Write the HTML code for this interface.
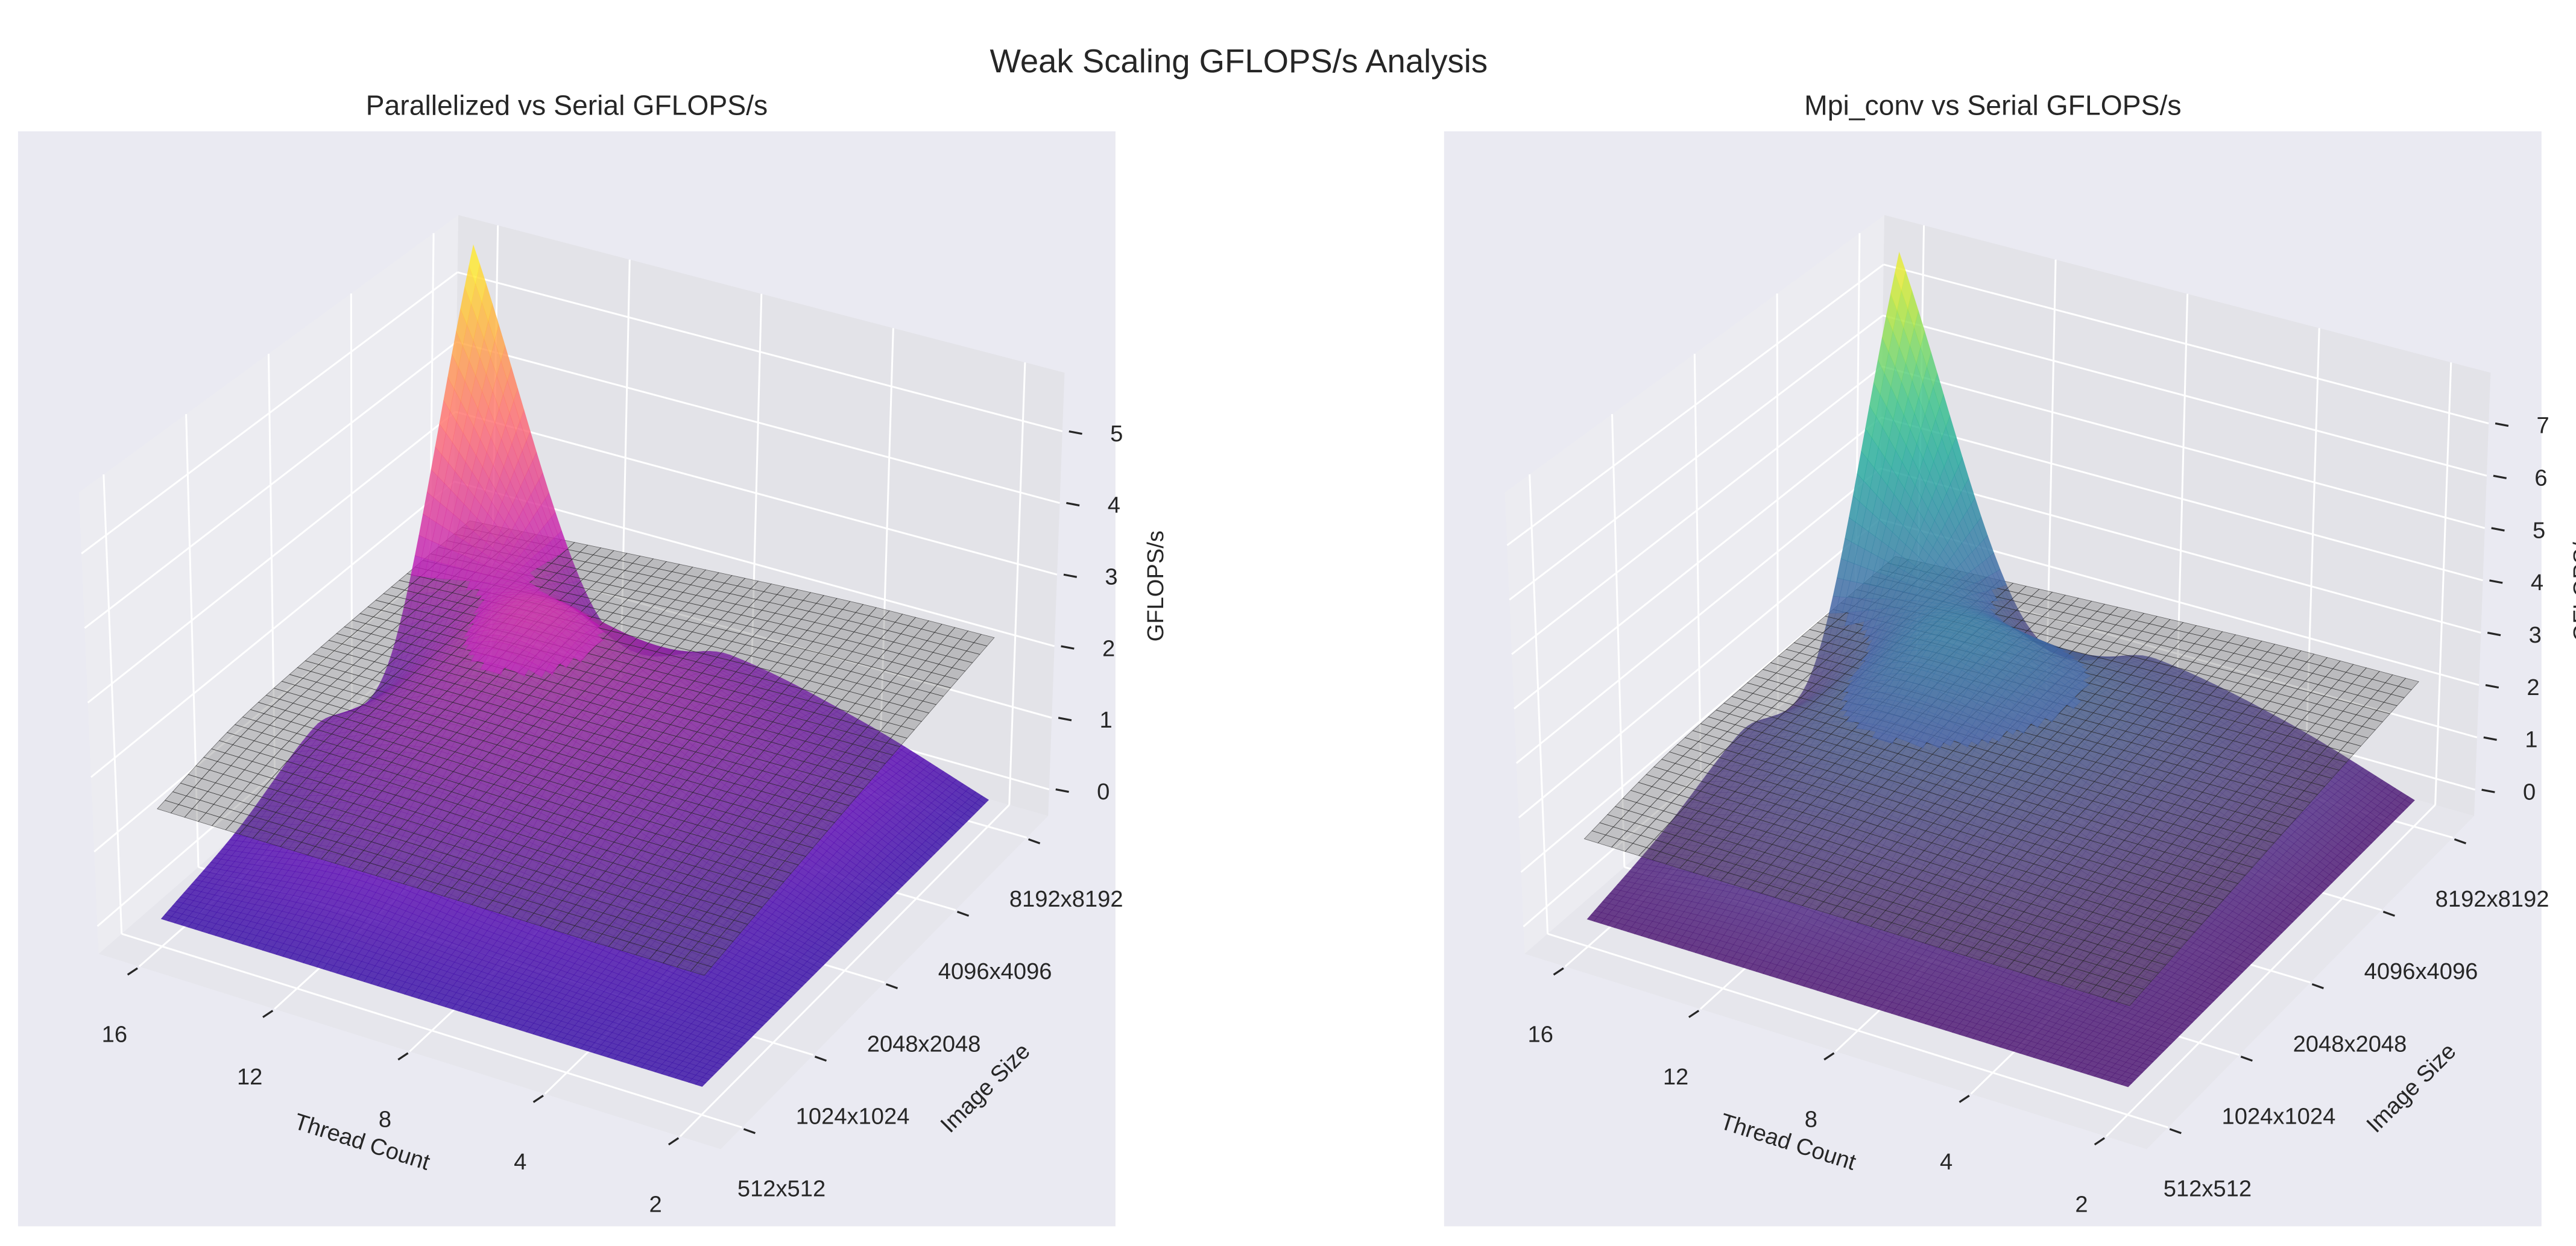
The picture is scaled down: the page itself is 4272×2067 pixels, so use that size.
<!DOCTYPE html>
<html><head><meta charset="utf-8"><title>Weak Scaling GFLOPS/s Analysis</title>
<style>
html,body{margin:0;padding:0;background:#fff;}
svg{display:block;font-family:"Liberation Sans",sans-serif;}
</style></head>
<body>
<svg id="fig" xmlns="http://www.w3.org/2000/svg" width="4272" height="2067" viewBox="0 0 1568 759" preserveAspectRatio="none">
<rect x="0" y="0" width="1568" height="759" fill="#ffffff"/>
<text x="754" y="44" text-anchor="middle" font-size="20" fill="#262626">Weak Scaling GFLOPS/s Analysis</text>
<rect x="11" y="80" width="668" height="667" fill="#eaeaf2"/>
<rect x="879" y="80" width="668" height="667" fill="#eaeaf2"/>
<text x="345" y="70" text-anchor="middle" font-size="17" fill="#262626">Parallelized vs Serial GFLOPS/s</text>
<text x="1213" y="70" text-anchor="middle" font-size="17" fill="#262626">Mpi_conv vs Serial GFLOPS/s</text>
<g id="left"></g>
<g id="right"></g>
</svg>
<script>
const threads = [2, 4, 8, 12, 16];
const sizeLabels = ['512x512', '1024x1024', '2048x2048', '4096x4096', '8192x8192'];
const serialGflops = [
  [1.46, 1.66, 1.86, 2.06, 2.26],
  [1.46, 1.66, 1.85, 2.04, 2.22],
  [1.47, 1.68, 1.84, 1.99, 2.12],
  [1.47, 1.72, 1.84, 1.93, 2.00],
  [1.48, 1.74, 1.82, 1.85, 1.87]
];
const parallelGflops = [
  [0, 0, 0, 0, 0],
  [0, 0.2, 0.5, 0.8, 0.6],
  [0, 0.4, 1.2, 1.6, 1.0],
  [0, 0.6, 1.5, 2.2, 1.0],
  [0, 0.3, 0.8, 0.9, 5.8]
];
const mpiGflops = [
  [0, 0, 0, 0, 0],
  [0, 0.25, 0.6, 1.0, 0.8],
  [0, 0.5, 1.5, 2.0, 1.3],
  [0, 0.8, 1.9, 2.7, 1.3],
  [0, 0.4, 1.0, 1.2, 7.8]
];
const zTicksLeft = [0, 1, 2, 3, 4, 5];
const zTicksRight = [0, 1, 2, 3, 4, 5, 6, 7];

const NS = 'http://www.w3.org/2000/svg';
const plasma = [[13,8,135],[84,2,163],[139,10,165],[185,50,137],[219,92,104],[244,136,73],[254,188,43],[240,249,33]];
const viridis = [[68,1,84],[72,40,120],[62,74,137],[49,104,142],[38,130,142],[31,158,137],[53,183,121],[109,205,89],[180,222,44],[253,231,37]];

function cmapColor(stops, t, off) {
  t = Math.max(0, Math.min(1, t));
  const p = t * (stops.length - 1);
  const k = Math.min(stops.length - 2, Math.floor(p));
  const f = p - k;
  const c = [0,1,2].map(m => Math.round(Math.min(255, stops[k][m] * (1 - f) + stops[k+1][m] * f + off[m] * (1 - t * 0.6))));
  return 'rgb(' + c.join(',') + ')';
}

function makeProj(dx, c0, c1) {
  const F = [438.7, 700], L = [60, 581], R = [638, 497], B = [275, 394];
  const Ft = [445, 411], Lt = [48, 300], Rt = [648, 227], Bt = [279, 131];
  return function (i, j, z) {
    const u = (i + 0.3) / 4.6, v = (j + 0.3) / 4.6, w = (z - c0) / (c1 - c0);
    const a = (1-u)*(1-v), b = u*(1-v), c = (1-u)*v, d = u*v;
    const fx = F[0]*a + L[0]*b + R[0]*c + B[0]*d, fy = F[1]*a + L[1]*b + R[1]*c + B[1]*d;
    const tx = Ft[0]*a + Lt[0]*b + Rt[0]*c + Bt[0]*d, ty = Ft[1]*a + Lt[1]*b + Rt[1]*c + Bt[1]*d;
    return [dx + fx + (tx - fx) * w, fy + (ty - fy) * w];
  };
}

function cr(p0, p1, p2, p3, t) {
  return 0.5 * ((2*p1) + (-p0 + p2) * t + (2*p0 - 5*p1 + 4*p2 - p3) * t*t + (-p0 + 3*p1 - 3*p2 + p3) * t*t*t);
}
function getv(g, i, j) {
  const n = g.length;
  if (i < 0) return 2 * getv(g, 0, j) - getv(g, 1, j);
  if (i > n-1) return 2 * getv(g, n-1, j) - getv(g, n-2, j);
  if (j < 0) return 2 * g[i][0] - g[i][1];
  if (j > n-1) return 2 * g[i][n-1] - g[i][n-2];
  return g[i][j];
}
function sample(g, x, y) {
  const i = Math.min(3, Math.floor(x)), j = Math.min(3, Math.floor(y));
  const tx = x - i, ty = y - j;
  const rows = [];
  for (let a = -1; a <= 2; a++) {
    rows.push(cr(getv(g,i+a,j-1), getv(g,i+a,j), getv(g,i+a,j+1), getv(g,i+a,j+2), ty));
  }
  return cr(rows[0], rows[1], rows[2], rows[3], tx);
}

function mk(tag, parent) {
  const e = document.createElementNS(NS, tag);
  parent.appendChild(e);
  return e;
}
function pts(arr) { return arr.map(p => p[0].toFixed(2) + ',' + p[1].toFixed(2)).join(' '); }

function drawPanel(g, dx, c0, c1, colorGrid, stops, off, zTicks, prefix) {
  const P = makeProj(dx, c0, c1);
  const lo = -0.3, hi = 4.3;
  const floor = mk('polygon', g);
  
  
  floor.setAttribute('points', pts([P(lo,lo,c0), P(hi,lo,c0), P(hi,hi,c0), P(lo,hi,c0)]));
  floor.setAttribute('fill', '#e6e6ec');
  const lp = mk('polygon', g);
  
  
  lp.setAttribute('points', pts([P(hi,lo,c0), P(hi,hi,c0), P(hi,hi,c1), P(hi,lo,c1)]));
  lp.setAttribute('fill', '#ececf1');
  const bp = mk('polygon', g);
  
  
  bp.setAttribute('points', pts([P(lo,hi,c0), P(hi,hi,c0), P(hi,hi,c1), P(lo,hi,c1)]));
  bp.setAttribute('fill', '#e3e3e8');
  const gl = [];
  for (let k = 0; k < 5; k++) {
    gl.push([P(hi,k,c0), P(hi,k,c1)]);
    gl.push([P(k,hi,c0), P(k,hi,c1)]);
    gl.push([P(k,lo,c0), P(k,hi,c0)]);
    gl.push([P(lo,k,c0), P(hi,k,c0)]);
  }
  zTicks.forEach(z => { gl.push([P(hi,lo,z), P(hi,hi,z)]); gl.push([P(lo,hi,z), P(hi,hi,z)]); });
  gl.forEach(s => {
    const ln = mk('line', g);
    
    
    ln.setAttribute('x1', s[0][0]); ln.setAttribute('y1', s[0][1]);
    ln.setAttribute('x2', s[1][0]); ln.setAttribute('y2', s[1][1]);
    ln.setAttribute('stroke', '#ffffff'); ln.setAttribute('stroke-width', '1.1');
  });
  threads.forEach((t, k) => {
    const b = P(k, lo, c0);
    const tk = mk('line', g);
    
    
    tk.setAttribute('x1', b[0] - 1); tk.setAttribute('y1', b[1] + 1);
    tk.setAttribute('x2', b[0] - 7); tk.setAttribute('y2', b[1] + 5);
    tk.setAttribute('stroke', '#262626'); tk.setAttribute('stroke-width', '1.2');
    const tx = mk('text', g);
    
    
    tx.setAttribute('x', b[0] - 15); tx.setAttribute('y', b[1] + 46);
    tx.setAttribute('text-anchor', 'middle'); tx.setAttribute('font-size', '14'); tx.setAttribute('fill', '#262626');
    tx.textContent = String(t);
  });
  sizeLabels.forEach((s, k) => {
    const b = P(lo, k, c0);
    const tk = mk('line', g);
    
    
    tk.setAttribute('x1', b[0] + 1); tk.setAttribute('y1', b[1] + 1);
    tk.setAttribute('x2', b[0] + 8); tk.setAttribute('y2', b[1] + 3.5);
    tk.setAttribute('stroke', '#262626'); tk.setAttribute('stroke-width', '1.2');
    const tx = mk('text', g);
    
    
    tx.setAttribute('x', b[0] + 24); tx.setAttribute('y', b[1] + 42);
    tx.setAttribute('text-anchor', 'middle'); tx.setAttribute('font-size', '14'); tx.setAttribute('fill', '#262626');
    tx.textContent = s;
  });
  zTicks.forEach(z => {
    const b = P(lo, hi, z);
    const tk = mk('line', g);
    
    
    tk.setAttribute('x1', b[0] + 4); tk.setAttribute('y1', b[1]);
    tk.setAttribute('x2', b[0] + 12); tk.setAttribute('y2', b[1] + 1.5);
    tk.setAttribute('stroke', '#262626'); tk.setAttribute('stroke-width', '1.2');
    const tx = mk('text', g);
    
    
    tx.setAttribute('x', b[0] + 33); tx.setAttribute('y', b[1] + 6);
    tx.setAttribute('text-anchor', 'middle'); tx.setAttribute('font-size', '14'); tx.setAttribute('fill', '#262626');
    tx.textContent = String(z);
  });
  const xl = mk('text', g);
  
  
  xl.setAttribute('transform', 'translate(' + (dx + 219) + ',700) rotate(17.5)');
  xl.setAttribute('text-anchor', 'middle'); xl.setAttribute('font-size', '14'); xl.setAttribute('fill', '#262626');
  xl.textContent = 'Thread Count';
  const yl = mk('text', g);
  
  
  yl.setAttribute('transform', 'translate(' + (dx + 603) + ',666) rotate(-45)');
  yl.setAttribute('text-anchor', 'middle'); yl.setAttribute('font-size', '14'); yl.setAttribute('fill', '#262626');
  yl.textContent = 'Image Size';
  const zl = mk('text', g);
  
  
  zl.setAttribute('transform', 'translate(' + (dx + 708) + ',357) rotate(-90)');
  zl.setAttribute('text-anchor', 'middle'); zl.setAttribute('font-size', '14'); zl.setAttribute('fill', '#262626');
  zl.textContent = 'GFLOPS/s';

  let zmax = 0;
  colorGrid.forEach(r => r.forEach(v => { if (v > zmax) zmax = v; }));
  const corners = [[0,0],[1,0],[1,1],[0,1]];
  const below = [], grays = [], above = [];
  const NC = 80, sc = 4 / NC;
  for (let a = 0; a < NC; a++) for (let b = 0; b < NC; b++) {
    const ii = [a*sc, (a+1)*sc], jj = [b*sc, (b+1)*sc];
    const cz = corners.map(q => Math.max(0, sample(colorGrid, ii[q[0]], jj[q[1]])));
    const sz = corners.map(q => sample(serialGflops, ii[q[0]], jj[q[1]]));
    const cm = (cz[0]+cz[1]+cz[2]+cz[3]) / 4, sm = (sz[0]+sz[1]+sz[2]+sz[3]) / 4;
    const d = (ii[0]+ii[1]) / 2 + (jj[0]+jj[1]) / 2;
    const cq = { d: d - 0.35 * cm, p: corners.map((q, n) => P(ii[q[0]], jj[q[1]], cz[n])), z: cm };
    if (cm > sm) above.push(cq); else below.push(cq);
  }
  const NG = 40, sg0 = 4 / NG;
  for (let a = 0; a < NG; a++) for (let b = 0; b < NG; b++) {
    const ii = [a*sg0, (a+1)*sg0], jj = [b*sg0, (b+1)*sg0];
    const sz = corners.map(q => sample(serialGflops, ii[q[0]], jj[q[1]]));
    const sm = (sz[0]+sz[1]+sz[2]+sz[3]) / 4;
    const d = (ii[0]+ii[1]) / 2 + (jj[0]+jj[1]) / 2;
    grays.push({ d: d - 0.35 * sm, p: corners.map((q, n) => P(ii[q[0]], jj[q[1]], sz[n])) });
  }
  [below, grays, above].forEach(arr => arr.sort((x, y) => y.d - x.d));
  const sg = mk('g', g);
  
  
  const drawColor = q => {
    const pg = mk('polygon', sg);
    
    
    const col = cmapColor(stops, q.z / zmax, off);
    pg.setAttribute('fill', col); pg.setAttribute('fill-opacity', '0.82');
    pg.setAttribute('stroke', col); pg.setAttribute('stroke-width', '0.25'); pg.setAttribute('stroke-opacity', '0.5');
    pg.setAttribute('points', pts(q.p));
  };
  below.forEach(drawColor);
  grays.forEach(q => {
    const pg = mk('polygon', sg);
    
    
    pg.setAttribute('fill', '#686868'); pg.setAttribute('fill-opacity', '0.32');
    pg.setAttribute('stroke', '#222222'); pg.setAttribute('stroke-width', '0.3'); pg.setAttribute('stroke-opacity', '0.6');
    pg.setAttribute('points', pts(q.p));
  });
  above.forEach(drawColor);
}

drawPanel(document.getElementById('left'), 0, -0.37, 5.82, parallelGflops, plasma, [42, 5, 30], zTicksLeft, 'left');
drawPanel(document.getElementById('right'), 868, -0.5, 7.97, mpiGflops, viridis, [8, 19, 29], zTicksRight, 'right');
</script>
</body></html>
